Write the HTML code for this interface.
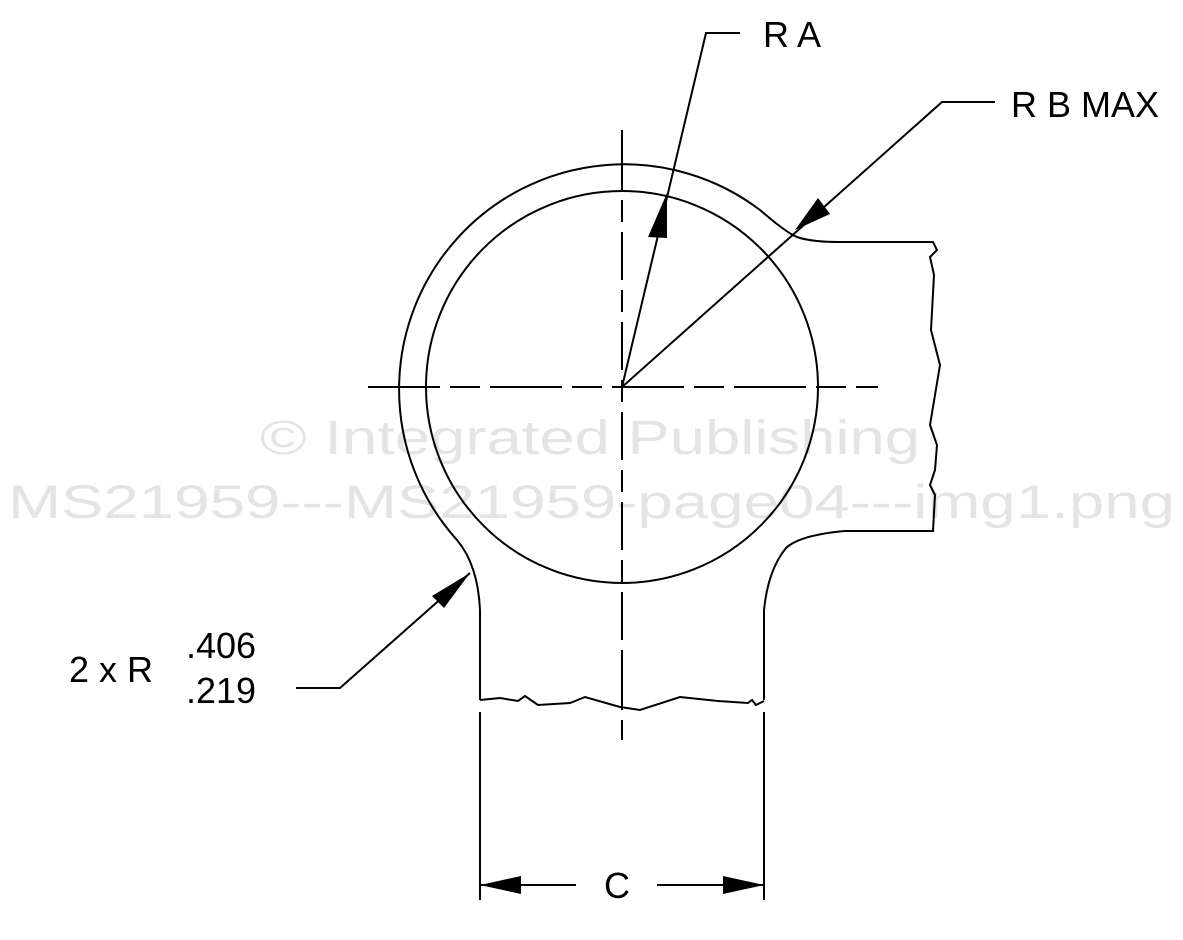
<!DOCTYPE html>
<html><head><style>
html,body{margin:0;padding:0;background:#fff;}
svg{display:block;}
text{font-family:"Liberation Sans",Arial,sans-serif;}
</style></head><body>
<svg width="1183" height="940" viewBox="0 0 1183 940" xmlns="http://www.w3.org/2000/svg">
<g fill="#e4e4e4">
<text x="260" y="454" font-size="48" textLength="660" lengthAdjust="spacingAndGlyphs">© Integrated Publishing</text>
<text x="8" y="518" font-size="47" textLength="1167" lengthAdjust="spacingAndGlyphs">MS21959---MS21959-page04---img1.png</text>
</g>
<g fill="none" stroke="#000" stroke-width="2">
<circle cx="622" cy="387" r="196"/>
<path d="M480,700 L480,610 Q478,565 457,540 A225,225 0 0 1 760,210 Q790,236 800,238 Q815,242 838,242 L933,242 L937,250 L930,257 L934,275 L931,330 L940,365 L930,425 L937,445 L935,470 L930,485 L935,495 L933,531 L845,531 Q800,535 786,548 Q768,570 764,610 L764,700"/>
<path d="M480,700 L500,698 L518,701 L525,696 L538,705 L570,703 L585,697 L620,707 L640,710 L680,697 L718,701 L748,703 L752,700 L756,705 L764,701"/>
<line x1="368" y1="387" x2="878" y2="387" stroke-dasharray="72,10,30,10,72,10,30,10,72,10,30,10,72,10,30,10" />
<line x1="622" y1="130" x2="622" y2="740" stroke-dasharray="60,10,22,10,48,10,22,10,48,10,22,10,48,10,22,10,48,10,22,10,48,10" />
<polyline points="622,387 706,33 740,33"/>
<polyline points="622,387 942,102 995,102"/>
<polyline points="296,688 340,688 470,573"/>
<line x1="480" y1="712" x2="480" y2="900"/>
<line x1="764" y1="712" x2="764" y2="900"/>
<line x1="480" y1="885" x2="576" y2="885"/>
<line x1="657" y1="885" x2="764" y2="885"/>
</g>
<g fill="#000" stroke="none">
<polygon points="667,193 648,237 667,238"/>
<polygon points="795,230 818,198 830,214"/>
<polygon points="470,573 432,596 444,608"/>
<polygon points="480,885 521,876 521,894"/>
<polygon points="764,885 723,876 723,894"/>
</g>
<g fill="#000" font-size="36">
<text x="763" y="47">R A</text>
<text x="1011" y="117">R B MAX</text>
<text x="69" y="682">2 x R</text>
<text x="186" y="658">.406</text>
<text x="186" y="703">.219</text>
<text x="604" y="898">C</text>
</g>
</svg>
</body></html>
